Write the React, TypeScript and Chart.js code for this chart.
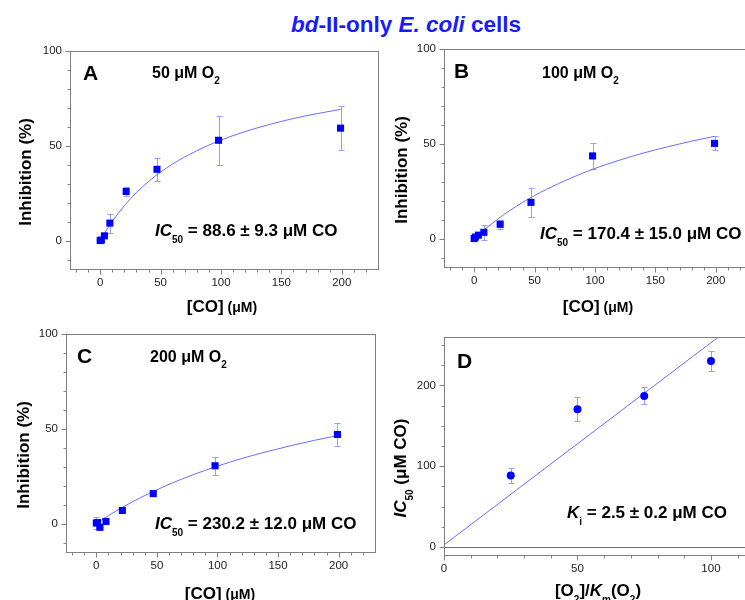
import React, { useEffect, useRef } from 'react';
import { Chart, registerables } from 'chart.js';
Chart.register(...registerables);

const FONT = '"Liberation Sans", Arial, Helvetica, sans-serif';
const CW = 780;
const CH = 620;
const YAXW = 45;
const XAXH = 26;
const BLUE = '#0000ff';
const FITC = '#6c6cff';
const ERRC = '#9a9aff';
const FRAME = '#808080';
const TICKTXT = '#222222';

// ---- Panel A: 50 µM O2 ----
const coA = [0, 1, 3.5, 8, 21.5, 47, 98, 199];
const inhA = [0, 0.3, 2.5, 9.2, 25.9, 37.6, 52.9, 59.3];
const errA = [0, 0, 0, 5.0, 2.5, 6.2, 13.0, 11.6];
const fitXA = [3, 10, 20, 30, 40, 50, 60, 80, 100, 120, 140, 160, 180, 199];
const fitYA = [3.3, 10.1, 18.4, 25.3, 31.1, 36.1, 40.4, 47.4, 53.0, 57.5, 61.2, 64.4, 67.0, 69.2];

// ---- Panel B: 100 µM O2 ----
const coB = [0, 1, 3.5, 8, 21.5, 47, 98, 199];
const inhB = [0, 0.8, 1.8, 3.3, 7.5, 19.1, 43.6, 50.2];
const errB = [0, 0, 0, 4.0, 2.5, 7.7, 7.0, 3.7];
const fitXB = [8, 20, 30, 40, 50, 60, 80, 100, 120, 140, 160, 180, 199];
const fitYB = [4.5, 10.5, 15.0, 19.0, 22.7, 26.0, 31.9, 37.0, 41.3, 45.1, 48.4, 51.4, 53.9];

// ---- Panel C: 200 µM O2 ----
const coC = [0, 1, 3, 8, 21.5, 47, 98, 199];
const inhC = [0.3, 0.5, -2.0, 1.1, 6.9, 15.8, 30.5, 47.0];
const errC = [3.0, 0, 0, 0, 1.0, 1.0, 4.8, 6.0];
const fitXC = [4, 10, 20, 30, 40, 50, 60, 80, 100, 120, 140, 160, 180, 199];
const fitYC = [1.7, 4.2, 8.0, 11.5, 14.8, 17.8, 20.7, 25.8, 30.3, 34.3, 37.8, 41.0, 43.9, 46.4];

// ---- Panel D: IC50 vs [O2]/Km(O2) ----
const o2Ratio = [25, 50, 75, 100];
const ic50 = [88.6, 170.4, 187.0, 230.2];
const ic50Err = [9.3, 15.0, 10.5, 12.0];
const fitXD = [0, 104];
const fitYD = [2.5, 263];

// ---- ticks ----
const coMajor = [0, 50, 100, 150, 200];
const coMinor = [-20, -10, 10, 20, 30, 40, 60, 70, 80, 90, 110, 120, 130, 140, 160, 170, 180, 190, 210, 220];
const inhMajor = [0, 50, 100];
const inhMinor = [-10, 10, 20, 30, 40, 60, 70, 80, 90];
const ratioMajor = [0, 50, 100];
const ratioMinor = [10, 20, 30, 40, 60, 70, 80, 90, 110];
const icMajor = [0, 100, 200];
const icMinor = [25, 50, 75, 125, 150, 175, 225, 250];

type Run = { t: string; s: number; i?: boolean; dy?: number };
type Label = { runs: Run[]; x: number; y: number; align?: 'left' | 'center'; rot?: boolean };
interface Panel {
  area: { l: number; t: number; r: number; b: number };
  xr: [number, number];
  yr: [number, number];
  xMaj: number[]; xMin: number[]; yMaj: number[]; yMin: number[];
  px: number[]; py: number[]; pe: number[];
  fx: number[]; fy: number[];
  style: 'rect' | 'circle';
  radius: number;
  zeroLine?: boolean;
  labels: Label[];
}

const sub = (t: string): Run => ({ t, s: 10, dy: 7 });

const panels: Panel[] = [
  {
    area: { l: 70, t: 51, r: 378, b: 269 }, xr: [-25, 230], yr: [-15, 100],
    xMaj: coMajor, xMin: coMinor, yMaj: inhMajor, yMin: inhMinor,
    px: coA, py: inhA, pe: errA, fx: fitXA, fy: fitYA, style: 'rect', radius: 5,
    labels: [
      { runs: [{ t: 'A', s: 21 }], x: 83, y: 80 },
      { runs: [{ t: '50 μM O', s: 16 }, { t: '2', s: 10, dy: 6 }], x: 152, y: 78 },
      { runs: [{ t: 'IC', s: 17, i: true }, sub('50'), { t: ' = 88.6 ± 9.3 μM CO', s: 17 }], x: 155, y: 236 },
      { runs: [{ t: 'Inhibition (%)', s: 17 }], x: 31, y: 172, rot: true },
      { runs: [{ t: '[CO]', s: 17 }, { t: ' (μM)', s: 14 }], x: 222, y: 312, align: 'center' },
    ],
  },
  {
    area: { l: 444, t: 49, r: 752, b: 267 }, xr: [-25, 230], yr: [-15, 100],
    xMaj: coMajor, xMin: coMinor, yMaj: inhMajor, yMin: inhMinor,
    px: coB, py: inhB, pe: errB, fx: fitXB, fy: fitYB, style: 'rect', radius: 5,
    labels: [
      { runs: [{ t: 'B', s: 21 }], x: 454, y: 78 },
      { runs: [{ t: '100 μM O', s: 16 }, { t: '2', s: 10, dy: 6 }], x: 542, y: 78 },
      { runs: [{ t: 'IC', s: 17, i: true }, sub('50'), { t: ' = 170.4 ± 15.0 μM CO', s: 17 }], x: 540, y: 239 },
      { runs: [{ t: 'Inhibition (%)', s: 17 }], x: 407, y: 170, rot: true },
      { runs: [{ t: '[CO]', s: 17 }, { t: ' (μM)', s: 14 }], x: 598, y: 312, align: 'center' },
    ],
  },
  {
    area: { l: 66, t: 334, r: 375, b: 552 }, xr: [-25, 230], yr: [-15, 100],
    xMaj: coMajor, xMin: coMinor, yMaj: inhMajor, yMin: inhMinor,
    px: coC, py: inhC, pe: errC, fx: fitXC, fy: fitYC, style: 'rect', radius: 5,
    labels: [
      { runs: [{ t: 'C', s: 21 }], x: 77, y: 363 },
      { runs: [{ t: '200 μM O', s: 16 }, { t: '2', s: 10, dy: 6 }], x: 150, y: 362 },
      { runs: [{ t: 'IC', s: 17, i: true }, sub('50'), { t: ' = 230.2 ± 12.0 μM CO', s: 17 }], x: 155, y: 529 },
      { runs: [{ t: 'Inhibition (%)', s: 17 }], x: 29, y: 455, rot: true },
      { runs: [{ t: '[CO]', s: 17 }, { t: ' (μM)', s: 14 }], x: 220, y: 599, align: 'center' },
    ],
  },
  {
    area: { l: 444, t: 337, r: 751, b: 555 }, xr: [0, 115], yr: [-10, 260],
    xMaj: ratioMajor, xMin: ratioMinor, yMaj: icMajor, yMin: icMinor,
    px: o2Ratio, py: ic50, pe: ic50Err, fx: fitXD, fy: fitYD, style: 'circle', radius: 4, zeroLine: true,
    labels: [
      { runs: [{ t: 'D', s: 21 }], x: 457, y: 368 },
      { runs: [{ t: 'K', s: 17, i: true }, { t: 'i', s: 10, dy: 7 }, { t: ' = 2.5 ± 0.2 μM CO', s: 17 }], x: 567, y: 518 },
      { runs: [{ t: 'IC', s: 17, i: true }, sub('50'), { t: ' (μM CO)', s: 17 }], x: 406, y: 468, rot: true },
      {
        runs: [{ t: '[O', s: 17 }, sub('2'), { t: ']/', s: 17 }, { t: 'K', s: 17, i: true }, sub('m'),
          { t: '(O', s: 17 }, sub('2'), { t: ')', s: 17 }], x: 598, y: 596, align: 'center',
      },
    ],
  },
];

function fontOf(r: Run) {
  return `${r.i ? 'italic ' : ''}bold ${r.s}px ${FONT}`;
}

function drawRuns(ctx: CanvasRenderingContext2D, runs: Run[], x: number, y: number, align: 'left' | 'center') {
  const ws = runs.map((r) => { ctx.font = fontOf(r); return ctx.measureText(r.t).width; });
  const total = ws.reduce((a, b) => a + b, 0);
  let cx = align === 'center' ? x - total / 2 : x;
  runs.forEach((r, k) => {
    ctx.font = fontOf(r);
    ctx.fillText(r.t, cx, y + (r.dy || 0));
    cx += ws[k];
  });
}

function line(ctx: CanvasRenderingContext2D, x1: number, y1: number, x2: number, y2: number) {
  ctx.beginPath();
  ctx.moveTo(x1, y1);
  ctx.lineTo(x2, y2);
  ctx.stroke();
}

function panelPlugin(p: Panel) {
  return {
    id: 'panelDeco',
    beforeDatasetsDraw(chart: any) {
      const ctx: CanvasRenderingContext2D = chart.ctx;
      const xs = chart.scales.x;
      const ys = chart.scales.y;
      const { left, right } = chart.chartArea;
      ctx.save();
      ctx.lineWidth = 1;
      if (p.zeroLine) {
        ctx.strokeStyle = '#6e6e6e';
        const Y = Math.round(ys.getPixelForValue(0)) + 0.5;
        line(ctx, left, Y, right, Y);
      }
      ctx.strokeStyle = ERRC;
      p.px.forEach((xv, i) => {
        const e = p.pe[i];
        if (!e) return;
        const X = Math.round(xs.getPixelForValue(xv)) + 0.5;
        const y1 = Math.round(ys.getPixelForValue(p.py[i] + e)) + 0.5;
        const y2 = Math.round(ys.getPixelForValue(p.py[i] - e)) + 0.5;
        line(ctx, X, y1, X, y2);
        line(ctx, X - 3, y1, X + 3, y1);
        line(ctx, X - 3, y2, X + 3, y2);
      });
      ctx.restore();
    },
    afterDraw(chart: any) {
      const ctx: CanvasRenderingContext2D = chart.ctx;
      const xs = chart.scales.x;
      const ys = chart.scales.y;
      const { left, top, right, bottom } = chart.chartArea;
      ctx.save();
      ctx.strokeStyle = FRAME;
      ctx.lineWidth = 1;
      const L = Math.round(left) + 0.5;
      const T = Math.round(top) + 0.5;
      const R = Math.round(right) + 0.5;
      const B = Math.round(bottom) + 0.5;
      ctx.strokeRect(L, T, R - L, B - T);
      p.xMaj.forEach((v) => { const X = Math.round(xs.getPixelForValue(v)) + 0.5; line(ctx, X, B, X, B + 5); });
      p.xMin.forEach((v) => { const X = Math.round(xs.getPixelForValue(v)) + 0.5; line(ctx, X, B, X, B + 3); });
      p.yMaj.forEach((v) => { const Y = Math.round(ys.getPixelForValue(v)) + 0.5; line(ctx, L - 5, Y, L, Y); });
      p.yMin.forEach((v) => { const Y = Math.round(ys.getPixelForValue(v)) + 0.5; line(ctx, L - 3, Y, L, Y); });

      ctx.fillStyle = '#000';
      ctx.textBaseline = 'alphabetic';
      ctx.textAlign = 'left';
      p.labels.forEach((lb) => {
        if (lb.rot) {
          ctx.save();
          ctx.translate(lb.x, lb.y);
          ctx.rotate(-Math.PI / 2);
          drawRuns(ctx, lb.runs, 0, 0, 'center');
          ctx.restore();
        } else {
          drawRuns(ctx, lb.runs, lb.x, lb.y, lb.align || 'left');
        }
      });
      ctx.restore();
    },
  };
}

function makeConfig(p: Panel): any {
  const pts = p.px.map((x, i) => ({ x, y: p.py[i] }));
  const fit = p.fx.map((x, i) => ({ x, y: p.fy[i] }));
  const tickFont = { family: FONT, size: 11.5 };
  return {
    type: 'scatter',
    data: {
      datasets: [
        {
          data: pts, showLine: false, pointStyle: p.style, pointRadius: p.radius,
          backgroundColor: BLUE, borderColor: BLUE, borderWidth: 0,
        },
        {
          data: fit, showLine: true, pointRadius: 0, borderColor: FITC, borderWidth: 1,
          cubicInterpolationMode: 'monotone', fill: false,
        },
      ],
    },
    options: {
      responsive: false,
      animation: false,
      devicePixelRatio: 1,
      events: [],
      layout: {
        padding: { left: p.area.l - YAXW, top: p.area.t, right: CW - p.area.r, bottom: CH - p.area.b - XAXH },
      },
      plugins: { legend: { display: false }, tooltip: { enabled: false }, title: { display: false } },
      scales: {
        x: {
          type: 'linear', min: p.xr[0], max: p.xr[1],
          grid: { display: false, drawTicks: false }, border: { display: false },
          ticks: { font: tickFont, color: TICKTXT, padding: 7, maxRotation: 0, autoSkip: false },
          afterBuildTicks: (s: any) => { s.ticks = p.xMaj.map((v) => ({ value: v })); },
          afterFit: (s: any) => { s.height = XAXH; },
        },
        y: {
          type: 'linear', min: p.yr[0], max: p.yr[1],
          grid: { display: false, drawTicks: false }, border: { display: false },
          ticks: { font: tickFont, color: TICKTXT, padding: 8, autoSkip: false },
          afterBuildTicks: (s: any) => { s.ticks = p.yMaj.map((v) => ({ value: v })); },
          afterFit: (s: any) => { s.width = YAXW; },
        },
      },
    },
    plugins: [panelPlugin(p)],
  };
}

export default function App() {
  const r0 = useRef<HTMLCanvasElement>(null);
  const r1 = useRef<HTMLCanvasElement>(null);
  const r2 = useRef<HTMLCanvasElement>(null);
  const r3 = useRef<HTMLCanvasElement>(null);

  useEffect(() => {
    const refs = [r0, r1, r2, r3];
    const charts = refs.map((r, i) => new Chart(r.current as HTMLCanvasElement, makeConfig(panels[i])));
    return () => charts.forEach((c) => c.destroy());
  }, []);

  const cstyle: React.CSSProperties = { position: 'absolute', left: 0, top: 0, width: CW, height: CH };
  return (
    <div style={{ position: 'absolute', left: 0, top: 0, width: 745, height: 600, overflow: 'hidden', background: '#fff' }}>
      <div
        style={{
          position: 'absolute', left: 0, top: 12, width: 812, textAlign: 'center', whiteSpace: 'nowrap',
          font: `bold 22.5px ${FONT}`, lineHeight: '26px', color: '#1a1aff',
        }}
      >
        <i>bd</i>-II-only <i>E. coli</i> cells
      </div>
      <canvas ref={r0} width={CW} height={CH} style={cstyle} />
      <canvas ref={r1} width={CW} height={CH} style={cstyle} />
      <canvas ref={r2} width={CW} height={CH} style={cstyle} />
      <canvas ref={r3} width={CW} height={CH} style={cstyle} />
    </div>
  );
}
